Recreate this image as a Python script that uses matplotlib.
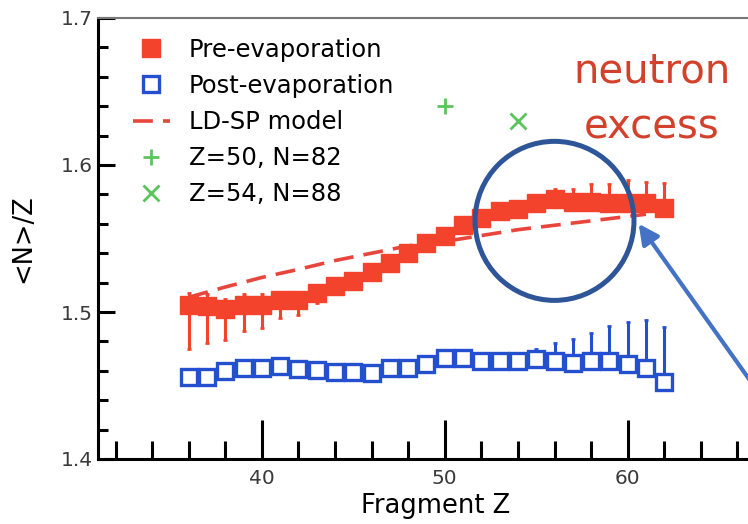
import numpy as np
import matplotlib
matplotlib.use("Agg")
import matplotlib.pyplot as plt
from matplotlib.patches import Ellipse
from matplotlib.ticker import MultipleLocator

plt.rcParams['font.family'] = ['DejaVu Sans']

# fragment charge
z = np.arange(36, 63)

# pre-evaporation <N>/Z and asymmetric errors
pre = [1.505, 1.504, 1.502, 1.505, 1.505, 1.508, 1.508, 1.513, 1.518, 1.521,
       1.527, 1.533, 1.540, 1.547, 1.552, 1.559, 1.564, 1.569, 1.570, 1.574,
       1.577, 1.575, 1.575, 1.574, 1.574, 1.574, 1.571]
pre_lo = [0.030, 0.025, 0.021, 0.018, 0.016, 0.012, 0.010, 0.007, 0, 0,
          0, 0, 0, 0, 0, 0, 0, 0, 0, 0,
          0, 0, 0, 0, 0, 0, 0]
pre_hi = [0.008, 0.008, 0.007, 0.0075, 0.0075, 0, 0, 0, 0, 0,
          0, 0, 0, 0, 0, 0, 0, 0, 0, 0,
          0.007, 0.009, 0.012, 0.013, 0.016, 0.0145, 0.017]

# post-evaporation
post = [1.456, 1.4555, 1.460, 1.462, 1.462, 1.463, 1.4615, 1.4605, 1.4595, 1.4595,
        1.4585, 1.462, 1.462, 1.4645, 1.469, 1.469, 1.467, 1.467, 1.467, 1.468,
        1.4667, 1.4656, 1.467, 1.4665, 1.4647, 1.4618, 1.4527]
post_hi = [0, 0, 0, 0, 0, 0, 0, 0, 0, 0,
           0, 0, 0, 0, 0, 0, 0, 0, 0, 0.007,
           0.012, 0.016, 0.019, 0.024, 0.0285, 0.033, 0.037]

# LD-SP model curve
z_model = [36, 38, 40, 42, 44, 46, 48, 50, 52, 54, 56, 58, 60, 61]
ld_sp = [1.510, 1.517, 1.5235, 1.529, 1.535, 1.540, 1.545, 1.548, 1.552,
         1.556, 1.559, 1.562, 1.565, 1.5665]

# closed shells
sn_z, sn_n = 50, 82
xe_z, xe_n = 54, 88

red = '#f4432c'
blue = '#2450d0'
green = '#5cc45c'

fig = plt.figure(figsize=(7.48, 5.24), dpi=100)
# axes runs a bit past the right edge, like the cropped original
ax = fig.add_axes([98 / 748, 65 / 524, 676 / 748, 441 / 524])

ax.errorbar(z, pre, yerr=[pre_lo, pre_hi], fmt='none', ecolor=red,
            elinewidth=2.2, capsize=1.5, capthick=2, zorder=2)
ax.plot(z, pre, 's', color=red, ms=13.5, mec=red, zorder=4,
        label='Pre-evaporation')
ax.errorbar(z, post, yerr=[np.zeros(len(z)), post_hi], fmt='none', ecolor=blue,
            elinewidth=2.2, capsize=1.5, capthick=2, zorder=2)
ax.plot(z, post, 's', mfc='white', mec=blue, mew=2.4, ms=11, zorder=4,
        label='Post-evaporation')
ax.plot(z_model, ld_sp, color='#e8453c', lw=2.6, dashes=(5.5, 2.8), zorder=3,
        label='LD-SP model')
ax.plot([sn_z], [sn_n / sn_z], '+', color=green, ms=12, mew=2,
        label='Z=50, N=82')
ax.plot([xe_z], [xe_n / xe_z], 'x', color=green, ms=11, mew=2,
        label='Z=54, N=88')

# highlight circle and arrow
ax.add_patch(Ellipse((56.0, 1.562), 8.69, 0.1082, fill=False,
                     ec='#2e5597', lw=3.6, zorder=6, clip_on=False))
ax.annotate('', xy=(60.6, 1.56), xytext=(67.2, 1.4445),
            arrowprops=dict(arrowstyle='-|>', lw=3, color='#4472c4',
                            mutation_scale=30, shrinkA=0, shrinkB=0),
            annotation_clip=False, zorder=6)

ax.text(0.8195, 0.815, 'neutron\nexcess', transform=ax.transAxes,
        ha='center', va='center', fontsize=29, color='#d2412b',
        linespacing=1.5)

ax.set_xlim(31.04, 68.0)
ax.set_ylim(1.4, 1.7)
ax.xaxis.set_major_locator(MultipleLocator(10))
ax.xaxis.set_minor_locator(MultipleLocator(2))
ax.yaxis.set_major_locator(MultipleLocator(0.1))
ax.yaxis.set_minor_locator(MultipleLocator(0.02))
ax.tick_params(which='both', direction='in', width=2.2, top=False, right=False,
               labelsize=14.5, labelcolor='#3a3a3a')
ax.tick_params(axis='x', which='major', length=28, pad=7)
ax.tick_params(axis='x', which='minor', length=13)
ax.tick_params(axis='y', which='major', length=12, pad=4)
ax.tick_params(axis='y', which='minor', length=7)

for s in ['left', 'bottom']:
    ax.spines[s].set_linewidth(2.2)
ax.spines['right'].set_visible(False)
ax.spines['top'].set_color('#777777')
ax.spines['top'].set_linewidth(1.5)

ax.set_xlabel('Fragment Z', fontsize=18.5, labelpad=4)
ax.set_ylabel('<N>/Z', fontsize=18.5, labelpad=17)

ax.legend(loc='upper left', bbox_to_anchor=(0.052, 0.955), frameon=False,
          fontsize=17.5, handlelength=1.5, handletextpad=0.8, labelspacing=0.5,
          borderaxespad=0, borderpad=0)

fig.savefig('out.png', dpi=100)
